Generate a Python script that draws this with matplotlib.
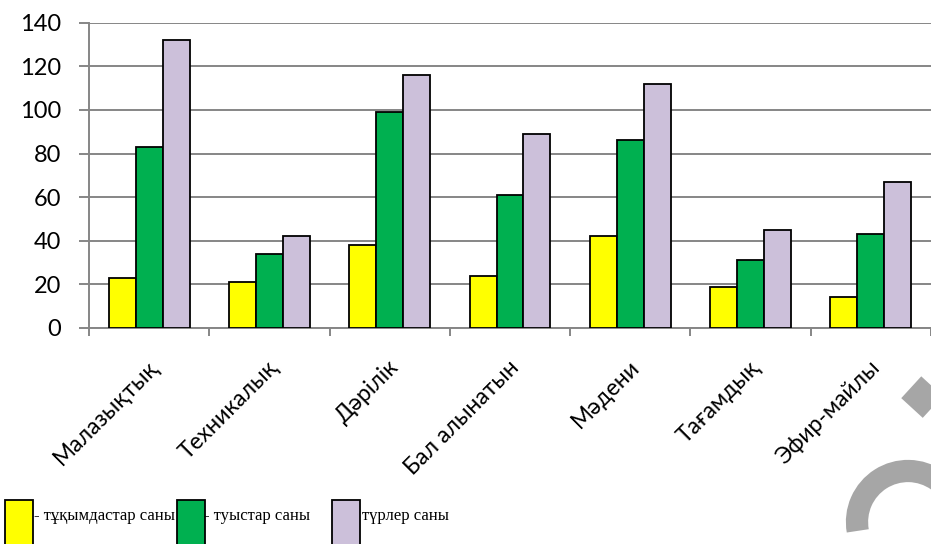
import matplotlib
import numpy as np
from matplotlib.patches import Arc, Rectangle
from matplotlib.transforms import ScaledTranslation

matplotlib.use("Agg")
import matplotlib.pyplot as plt  # noqa: E402

categories = ["Малазықтық", "Техникалық", "Дәрілік", "Бал алынатын", "Мәдени", "Тағамдық", "Эфир-майлы"]
families = [23, 21, 38, 24, 42, 19, 14]
genera = [83, 34, 99, 61, 86, 31, 43]
species = [132, 42, 116, 89, 112, 45, 67]
series_labels = ["- тұқымдастар саны", "- туыстар саны", "түрлер саны"]
yticks = [0, 20, 40, 60, 80, 100, 120, 140]

COLORS = ["#ffff00", "#00b050", "#ccc0da"]
GRID = "#868686"
MARK = "#a6a6a6"
W, H = 931, 544

plt.rcParams["font.family"] = ["Lato", "DejaVu Sans"]

fig = plt.figure(figsize=(W / 100, H / 100), dpi=100)
ax = fig.add_axes([89 / W, (H - 328) / H, (W - 89) / W, (328 - 22.7) / H])

x = np.arange(len(categories))
bw = 0.224
for i, vals in enumerate([families, genera, species]):
    ax.bar(x + (i - 1) * bw, vals, width=bw, color=COLORS[i], edgecolor="black", linewidth=1.3, zorder=3)

ax.set_ylim(0, 140)
ax.set_xlim(-0.5, -0.5 + (W - 89) / 121.2)
ax.set_yticks(yticks)
ax.yaxis.grid(True, color=GRID, linewidth=1.4, zorder=0)
ax.tick_params(axis="y", length=7, width=1.4, color=GRID, labelsize=17, pad=13)

ax.set_xticks(np.arange(len(categories) + 1) - 0.5)
ax.set_xticklabels([])
ax.set_xticks(x, minor=True)
ax.set_xticklabels(categories, minor=True, rotation=45, ha="right", va="center", rotation_mode="anchor", fontsize=16.5)
ax.tick_params(axis="x", which="major", length=6, width=1.4, color=GRID)
ax.tick_params(axis="x", which="minor", length=0, pad=26)
for lbl in ax.get_xticklabels(minor=True):
    lbl.set_transform(lbl.get_transform() + ScaledTranslation(6 / 100, 0, fig.dpi_scale_trans))

for side in ["top", "right"]:
    ax.spines[side].set_visible(False)
for side in ["left", "bottom"]:
    ax.spines[side].set_color(GRID)
    ax.spines[side].set_linewidth(1.4)

# legend drawn by hand: tall swatches running off the bottom edge, serif text
swatch_x = [5, 177, 332]
text_x = [34, 204, 362]
for sx, tx, col, lab in zip(swatch_x, text_x, COLORS, series_labels):
    fig.add_artist(Rectangle((sx / W, -0.05), 28 / W, (H - 500) / H + 0.05, transform=fig.transFigure,
                             facecolor=col, edgecolor="black", linewidth=1.3))
    fig.text(tx / W, (H - 516) / H, lab, family="Liberation Serif", fontsize=12, va="center", ha="left")

# faint page watermark strokes in the lower right corner (figure pixels)
fig.add_artist(Arc((908, 22), 102, 102, theta1=55, theta2=190, transform=None,
                   color=MARK, linewidth=16, zorder=0))
fig.add_artist(plt.Line2D([912, 945], [544 - 408, 544 - 372], transform=None,
                          color=MARK, linewidth=21, solid_capstyle="butt", zorder=0))

fig.savefig("out.png", dpi=100)
